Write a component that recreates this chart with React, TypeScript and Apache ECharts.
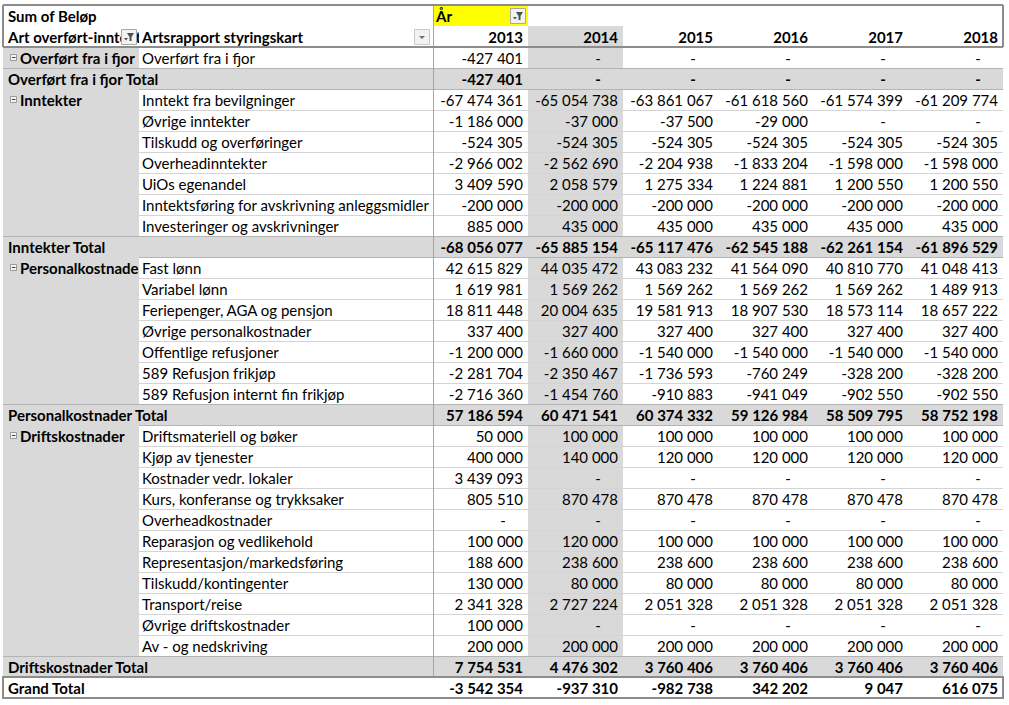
import React, { useEffect, useRef } from "react";
import * as echarts from "echarts";

const years = ["2013", "2014", "2015", "2016", "2017", "2018"];

const overfortItems = ["Overført fra i fjor"];
const overfortValues = [[-427401, null, null, null, null, null]];
const overfortTotal = [-427401, null, null, null, null, null];

const inntekterItems = [
  "Inntekt fra bevilgninger",
  "Øvrige inntekter",
  "Tilskudd og overføringer",
  "Overheadinntekter",
  "UiOs egenandel",
  "Inntektsføring for avskrivning anleggsmidler",
  "Investeringer og avskrivninger",
];
const inntekterValues = [
  [-67474361, -65054738, -63861067, -61618560, -61574399, -61209774],
  [-1186000, -37000, -37500, -29000, null, null],
  [-524305, -524305, -524305, -524305, -524305, -524305],
  [-2966002, -2562690, -2204938, -1833204, -1598000, -1598000],
  [3409590, 2058579, 1275334, 1224881, 1200550, 1200550],
  [-200000, -200000, -200000, -200000, -200000, -200000],
  [885000, 435000, 435000, 435000, 435000, 435000],
];
const inntekterTotal = [-68056077, -65885154, -65117476, -62545188, -62261154, -61896529];

const personalItems = [
  "Fast lønn",
  "Variabel lønn",
  "Feriepenger, AGA og pensjon",
  "Øvrige personalkostnader",
  "Offentlige refusjoner",
  "589 Refusjon frikjøp",
  "589 Refusjon internt fin frikjøp",
];
const personalValues = [
  [42615829, 44035472, 43083232, 41564090, 40810770, 41048413],
  [1619981, 1569262, 1569262, 1569262, 1569262, 1489913],
  [18811448, 20004635, 19581913, 18907530, 18573114, 18657222],
  [337400, 327400, 327400, 327400, 327400, 327400],
  [-1200000, -1660000, -1540000, -1540000, -1540000, -1540000],
  [-2281704, -2350467, -1736593, -760249, -328200, -328200],
  [-2716360, -1454760, -910883, -941049, -902550, -902550],
];
const personalTotal = [57186594, 60471541, 60374332, 59126984, 58509795, 58752198];

const driftItems = [
  "Driftsmateriell og bøker",
  "Kjøp av tjenester",
  "Kostnader vedr. lokaler",
  "Kurs, konferanse og trykksaker",
  "Overheadkostnader",
  "Reparasjon og vedlikehold",
  "Representasjon/markedsføring",
  "Tilskudd/kontingenter",
  "Transport/reise",
  "Øvrige driftskostnader",
  "Av - og nedskriving",
];
const driftValues = [
  [50000, 100000, 100000, 100000, 100000, 100000],
  [400000, 140000, 120000, 120000, 120000, 120000],
  [3439093, null, null, null, null, null],
  [805510, 870478, 870478, 870478, 870478, 870478],
  [null, null, null, null, null, null],
  [100000, 120000, 100000, 100000, 100000, 100000],
  [188600, 238600, 238600, 238600, 238600, 238600],
  [130000, 80000, 80000, 80000, 80000, 80000],
  [2341328, 2727224, 2051328, 2051328, 2051328, 2051328],
  [100000, null, null, null, null, null],
  [200000, 200000, 200000, 200000, 200000, 200000],
];
const driftTotal = [7754531, 4476302, 3760406, 3760406, 3760406, 3760406];

const grandTotal = [-3542354, -937310, -982738, 342202, 9047, 616075];

const sections = [
  { name: "Overført fra i fjor", items: overfortItems, values: overfortValues, total: overfortTotal },
  { name: "Inntekter", items: inntekterItems, values: inntekterValues, total: inntekterTotal },
  { name: "Personalkostnader", items: personalItems, values: personalValues, total: personalTotal },
  { name: "Driftskostnader", items: driftItems, values: driftValues, total: driftTotal },
];

// layout
const COLS = [3, 139, 433, 528, 623, 718, 813, 908, 1003];
const TOP = 5;
const RH = 21;
const DATA_TOP = TOP + 2 * RH;
const FONT = "Lato";
const FS = 15;
const GRAY = "#D9D9D9";
const BORDER = "#8C8C8C";

function fmt(v: number | null): string {
  if (v === null) return "-";
  const s = Math.abs(v).toString().replace(/\B(?=(\d{3})+(?!\d))/g, " ");
  return (v < 0 ? "-" : "") + s;
}

type Row = { kind: "item" | "total" | "grand"; group?: string; first?: boolean; label: string; values: (number | null)[] };

function buildRows(): Row[] {
  const rows: Row[] = [];
  sections.forEach((s) => {
    s.items.forEach((it, i) => {
      rows.push({ kind: "item", group: s.name, first: i === 0, label: it, values: s.values[i] });
    });
    rows.push({ kind: "total", label: s.name + " Total", values: s.total });
  });
  rows.push({ kind: "grand", label: "Grand Total", values: grandTotal });
  return rows;
}

function buildGraphics() {
  const els: any[] = [];
  const rect = (x: number, y: number, w: number, h: number, fill: string, z: number, stroke?: string, lw?: number) =>
    els.push({
      type: "rect",
      shape: { x, y, width: w, height: h },
      style: stroke ? { fill, stroke, lineWidth: lw } : { fill },
      z,
      silent: true,
    });
  const line = (x1: number, y1: number, x2: number, y2: number, stroke: string, lw: number, z: number) =>
    els.push({ type: "line", shape: { x1, y1, x2, y2 }, style: { stroke, lineWidth: lw }, z, silent: true });
  const text = (x: number, y: number, t: string, align: string, bold: boolean, z: number) =>
    els.push({
      type: "text",
      x,
      y,
      style: {
        text: t,
        fill: "#000",
        fontSize: FS,
        fontWeight: bold ? "bold" : "normal",
        fontFamily: FONT,
        align,
        verticalAlign: "middle",
      },
      z,
      silent: true,
    });

  const rows = buildRows();
  const yearCols = years.map((_, i) => ({ l: COLS[2 + i], r: COLS[3 + i] }));

  // header backgrounds
  rect(0, 0, 1009, 705, "#FFFFFF", 0);
  rect(COLS[2], TOP, COLS[3] - COLS[2], RH, "#FFFF00", 1);
  // selected 2014 column
  rect(COLS[3], TOP + RH, COLS[4] - COLS[3], RH + (rows.length - 1) * RH, GRAY, 1);

  rows.forEach((row, k) => {
    const top = DATA_TOP + k * RH;
    const cy = top + RH / 2 + 0.5;
    if (row.kind === "item") {
      rect(COLS[0], top, COLS[1] - COLS[0], RH, GRAY, 1);
      rect(COLS[1], top, COLS[2] - COLS[1], RH, "#FFFFFF", 4);
      if (row.first) {
        // collapse icon
        rect(10.5, cy - 3.5, 6, 6, "#F4F4F4", 3, "#9A9A9A", 1);
        line(12, cy - 0.5, 15.5, cy - 0.5, "#404040", 1, 3);
        text(20, cy, row.group as string, "left", true, 2);
      }
      text(COLS[1] + 3, cy, row.label, "left", false, 5);
      if (!row.first) line(COLS[1], top + 0.5, COLS[8], top + 0.5, "#D4D4D4", 1, 6);
      else if (k > 0) line(COLS[1], top + 0.5, COLS[8], top + 0.5, "#B4B4B4", 1, 6);
    } else if (row.kind === "total") {
      rect(COLS[0], top, COLS[8] - COLS[0], RH, GRAY, 1);
      line(COLS[0], top + 0.5, COLS[8], top + 0.5, "#B4B4B4", 1, 6);
      text(8, cy, row.label, "left", true, 5);
    } else {
      text(8, cy, row.label, "left", true, 5);
    }
    const bold = row.kind !== "item";
    row.values.forEach((v, i) => {
      const c = yearCols[i];
      if (v === null) text(c.r - 25, cy, "-", "center", bold, 5);
      else text(c.r - 5, cy, fmt(v), "right", bold, 5);
    });
  });

  // header texts
  const h1 = TOP + RH / 2 + 0.5;
  const h2 = TOP + RH + RH / 2 + 0.5;
  text(8, h1, "Sum of Beløp", "left", true, 5);
  text(COLS[2] + 3, h1, "År", "left", true, 5);
  text(8, h2, "Art overført-inntekter", "left", true, 2);
  // col B header cell covers the overflowing col A header text
  rect(COLS[1], TOP + RH + 1, COLS[2] - COLS[1], RH - 2, "#FFFFFF", 3);
  text(COLS[1] + 3, h2, "Artsrapport styringskart", "left", true, 5);
  years.forEach((y, i) => text(yearCols[i].r - 5, h2, y, "right", true, 5));

  // filter buttons
  const filterBtn = (x: number, y: number) => {
    rect(x + 0.5, y + 0.5, 15, 15, "#F2F2F2", 7, "#A8A8A8", 1);
    els.push({
      type: "polygon",
      shape: { points: [[x + 6, y + 4], [x + 13, y + 4], [x + 10.5, y + 8], [x + 10.5, y + 12], [x + 8.5, y + 12], [x + 8.5, y + 8]] },
      style: { fill: "#505050" },
      z: 8,
      silent: true,
    });
    els.push({
      type: "polygon",
      shape: { points: [[x + 3, y + 9], [x + 7, y + 9], [x + 5, y + 11.5]] },
      style: { fill: "#505050" },
      z: 8,
      silent: true,
    });
  };
  filterBtn(COLS[1] - 18, TOP + RH + 3);
  filterBtn(COLS[3] - 18, TOP + 3);
  // dropdown button col B
  rect(COLS[2] - 18.5, TOP + RH + 3.5, 15, 15, "#F2F2F2", 7, "#C8C8C8", 1);
  els.push({
    type: "polygon",
    shape: { points: [[COLS[2] - 14, TOP + RH + 10], [COLS[2] - 8, TOP + RH + 10], [COLS[2] - 11, TOP + RH + 13]] },
    style: { fill: "#707070" },
    z: 8,
    silent: true,
  });

  // vertical line between label and values
  line(COLS[2] + 0.5, TOP, COLS[2] + 0.5, DATA_TOP + (rows.length - 1) * RH, "#A6A6A6", 1, 6);

  // header box
  const hdrBottom = DATA_TOP;
  line(COLS[0], TOP, COLS[8], TOP, BORDER, 2, 9);
  line(COLS[0], TOP, COLS[0], hdrBottom, BORDER, 2, 9);
  line(COLS[8], TOP, COLS[8], hdrBottom, BORDER, 2, 9);
  line(COLS[0], hdrBottom, COLS[8], hdrBottom, BORDER, 2, 9);

  // grand total box
  const gTop = DATA_TOP + (rows.length - 1) * RH;
  els.push({
    type: "rect",
    shape: { x: COLS[0], y: gTop, width: COLS[8] - COLS[0], height: RH },
    style: { fill: "none", stroke: BORDER, lineWidth: 2 },
    z: 9,
    silent: true,
  });

  return els;
}

export default function App() {
  const ref = useRef<HTMLDivElement>(null);
  useEffect(() => {
    if (!ref.current) return;
    const chart = echarts.init(ref.current, undefined, { renderer: "svg" });
    chart.setOption({
      animation: false,
      graphic: { elements: buildGraphics() },
    });
    return () => chart.dispose();
  }, []);
  return (
    <div
      ref={ref}
      style={{ position: "absolute", left: 0, top: 0, width: 1009, height: 705, background: "#fff" }}
    />
  );
}
